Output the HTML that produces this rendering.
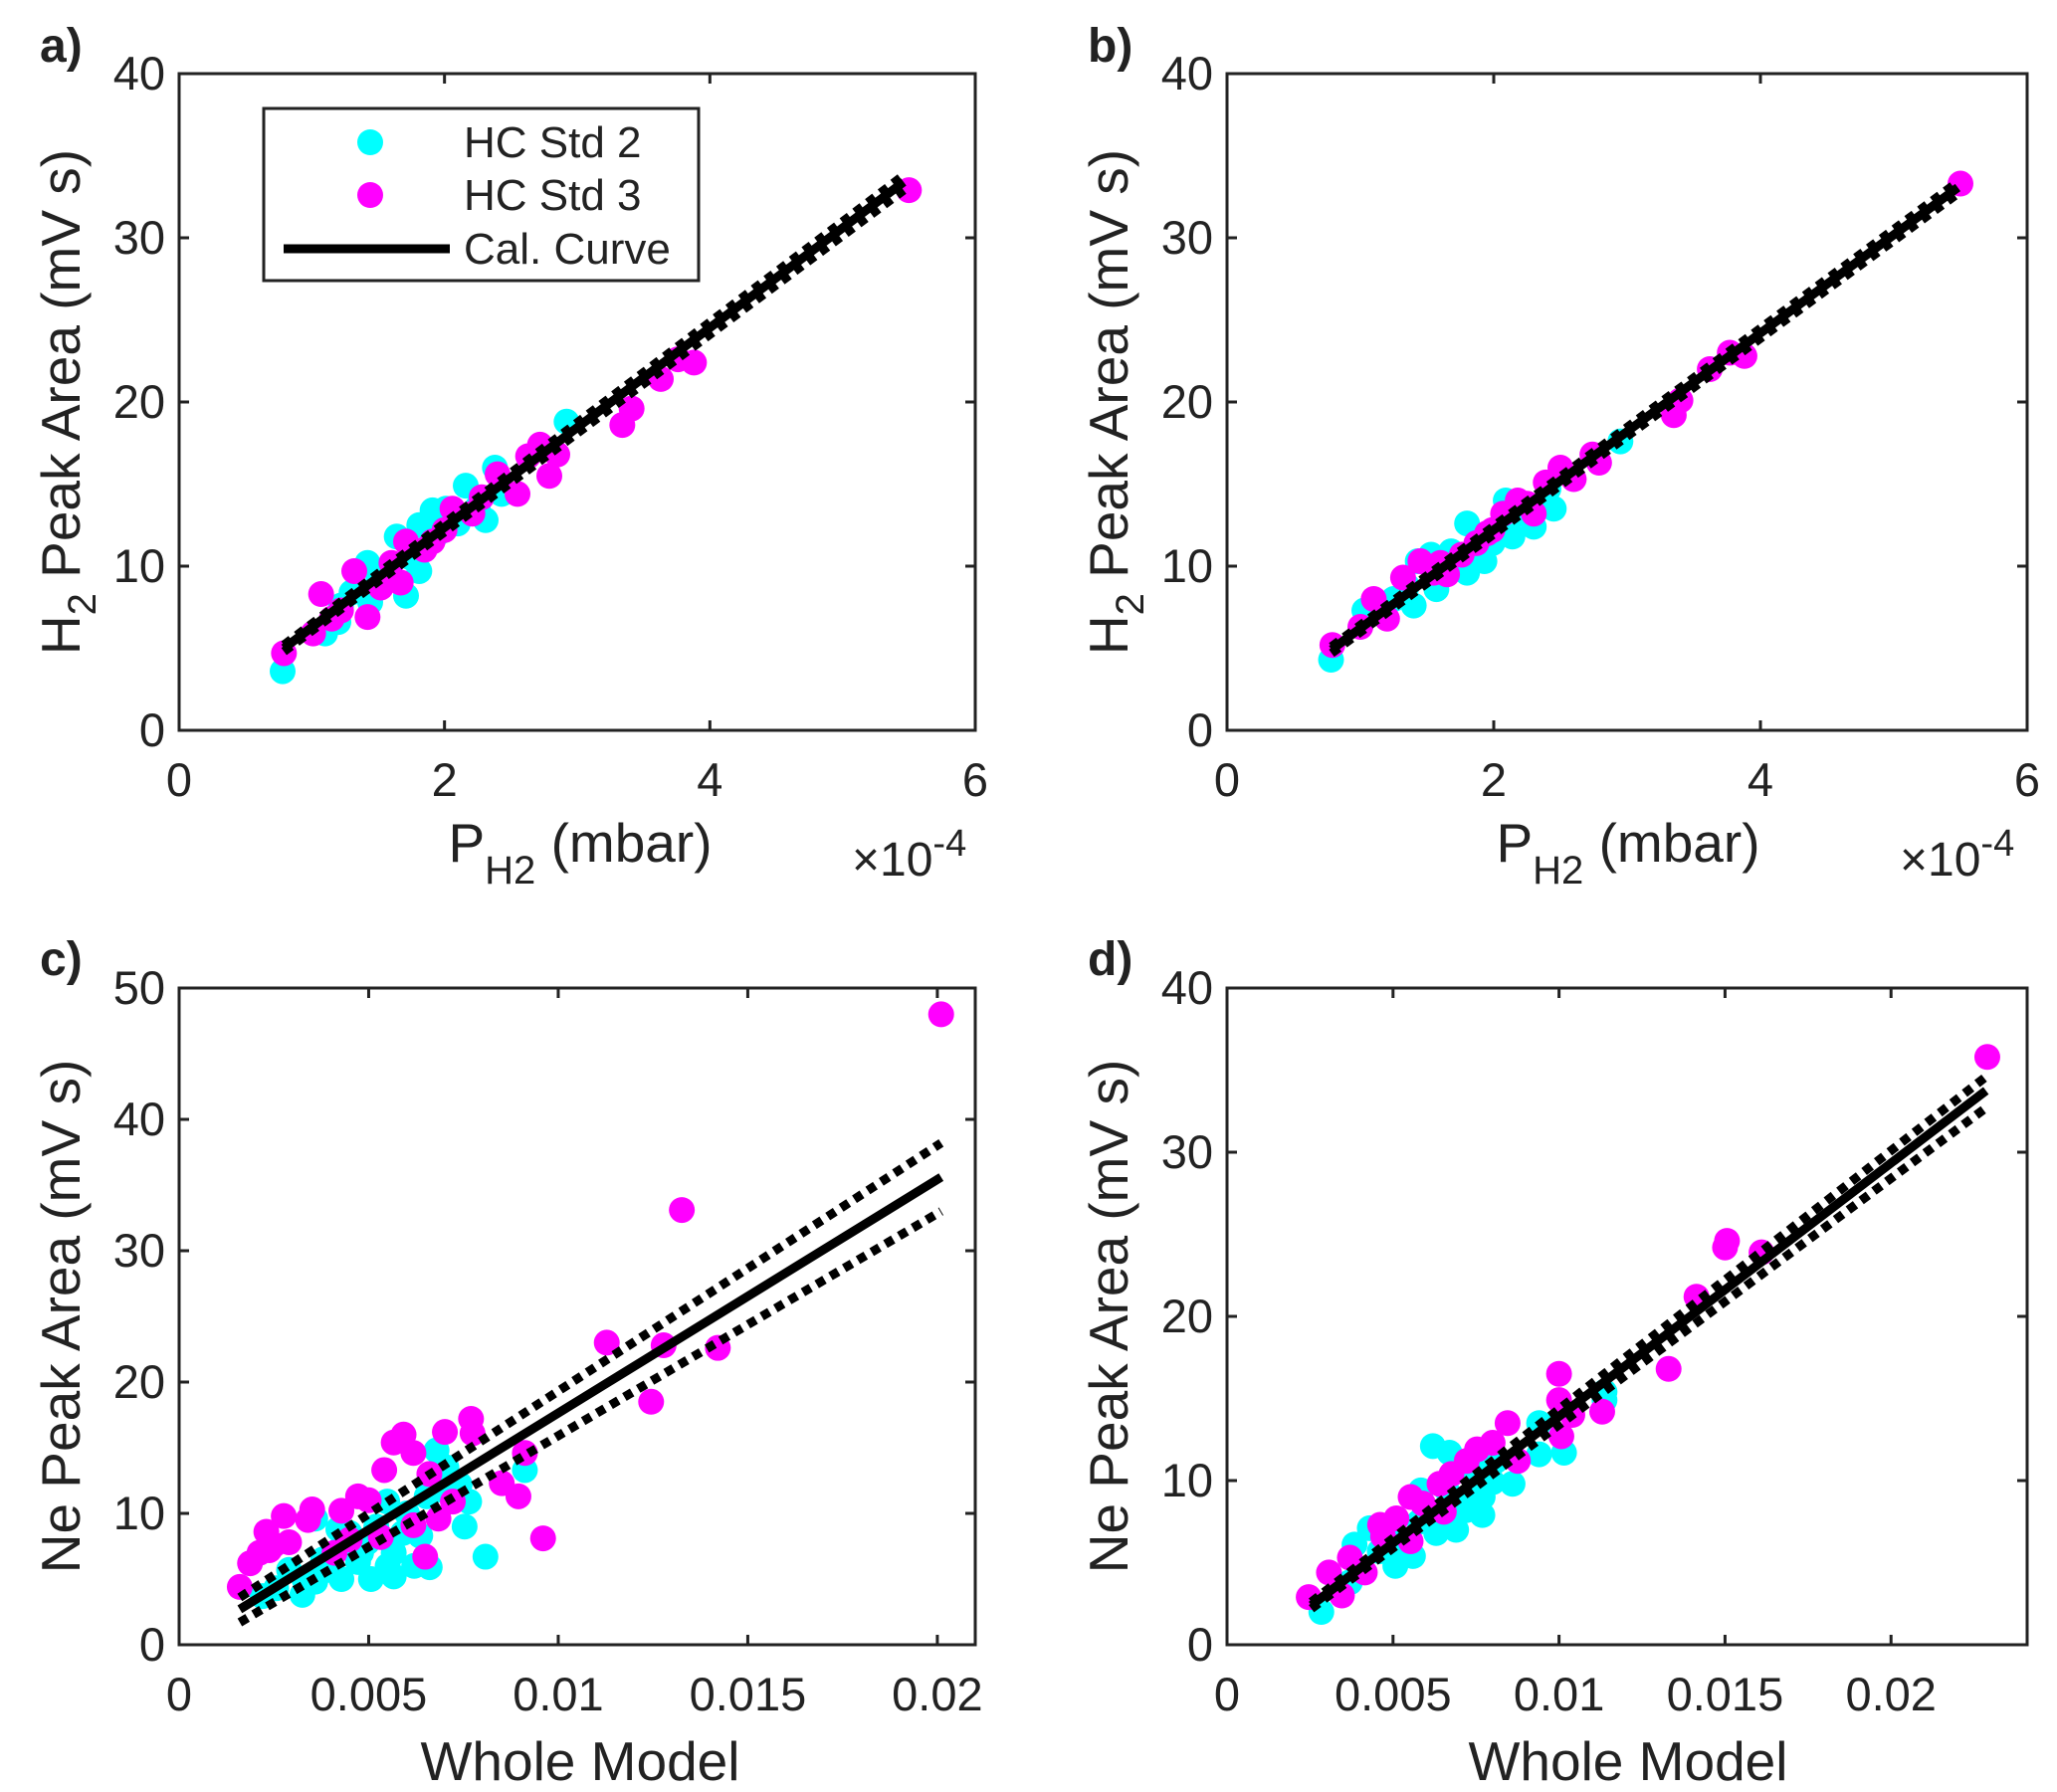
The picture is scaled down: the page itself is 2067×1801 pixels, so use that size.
<!DOCTYPE html>
<html><head><meta charset="utf-8"><style>
html,body{margin:0;padding:0;background:#fff;}
svg{display:block;font-family:"Liberation Sans",Arial,sans-serif;}
</style></head><body>
<svg id="fig" width="2067" height="1801" viewBox="0 0 2067 1801" xmlns="http://www.w3.org/2000/svg"></svg>
<script>
// ---- Panel a data (x in 1e-4 mbar) ----
const aCyanX=[0.78,1.1,1.22,1.42,1.44,1.64,1.81,1.81,1.91,2.01,2.16,2.31,2.38,2.43,2.92,1.57,1.71,1.3,1.5,1.95,2.1,2.25,1.75,1.2];
const aCyanY=[3.6,5.9,7.6,10.2,7.8,11.8,9.7,12.5,13.4,13.5,14.9,12.8,16.0,14.4,18.8,9.7,8.2,8.4,9.4,12.0,12.6,13.6,10.5,6.6];
const aMagX=[0.79,5.5,1.01,1.07,1.32,1.22,1.67,1.71,1.91,2.06,2.21,2.28,2.4,2.55,2.63,2.72,2.79,2.85,3.34,3.41,3.63,3.76,3.88,1.42,1.52,1.85,2.0,1.6,1.15];
const aMagY=[4.7,32.9,5.9,8.3,9.7,7.3,9.0,11.5,11.5,13.5,13.2,14.2,15.6,14.4,16.7,17.4,15.5,16.8,18.6,19.6,21.4,22.6,22.4,6.9,8.7,11.0,12.2,10.2,6.8];
const aFitX=[0.79,5.46];const aFitY=[5.0,33.4];const aUpY=[5.2,33.8];const aLoY=[4.8,32.9];
// ---- Panel b data ----
const bCyanX=[0.78,1.03,1.13,1.4,1.43,1.53,1.57,1.8,1.93,1.8,2.09,2.14,2.3,2.45,2.41,2.95,1.99,1.68,1.25,1.65,2.2,1.35];
const bCyanY=[4.3,7.3,7.3,7.6,10.3,10.7,8.6,12.6,10.3,9.6,14.0,11.8,12.4,13.5,14.7,17.6,11.4,10.9,8.0,10.0,13.2,8.8];
const bMagX=[0.79,5.5,1.0,1.1,1.2,1.32,1.55,1.65,1.76,1.87,2.07,2.18,2.3,2.5,2.6,2.74,2.79,3.35,3.4,3.62,3.77,3.88,1.45,1.99,2.39,1.6,1.95,2.25];
const bMagY=[5.2,33.3,6.3,8.0,6.8,9.3,9.6,9.5,10.7,11.4,13.2,14.0,13.2,16.0,15.3,16.8,16.3,19.2,20.1,22.0,23.0,22.8,10.3,12.2,15.1,10.2,12.0,13.8];
const bFitX=[0.784,5.48];const bFitY=[4.92,33.06];const bUpY=[5.1,33.4];const bLoY=[4.7,32.7];
// ---- Panel c data ----
const cCyanX=[0.00808,0.00753,0.00765,0.00912,0.00679,0.00661,0.00566,0.00506,0.00428,0.00325,0.00256,0.0022,0.00359,0.00394,0.00472,0.00566,0.00636,0.00497,0.00601,0.00359,0.00428,0.00549,0.00705,0.00653,0.0029,0.0074,0.0038,0.0045,0.0052,0.0059,0.0062,0.0033,0.0048,0.0055,0.0042,0.0068];
const cCyanY=[6.7,9.0,10.9,13.3,14.8,5.9,5.2,5.0,5.0,3.8,4.3,3.7,4.8,5.7,6.3,7.0,8.3,7.8,10.0,9.6,7.4,10.9,13.5,11.3,5.7,12.2,6.5,8.5,9.0,8.5,6.0,5.0,7.0,6.0,8.8,11.8];
const cMagX=[0.0016,0.0201,0.01326,0.01128,0.01278,0.01421,0.01245,0.0096,0.00895,0.00912,0.00851,0.0077,0.00774,0.00701,0.00592,0.00566,0.00618,0.0066,0.00541,0.00684,0.00649,0.00618,0.00472,0.00428,0.00351,0.00276,0.0023,0.00187,0.00212,0.0029,0.00238,0.00532,0.0041,0.00722,0.0034,0.005,0.0025,0.0045];
const cMagY=[4.4,48.0,33.1,23.0,22.8,22.6,18.5,8.1,11.3,14.6,12.3,17.2,16.1,16.2,16.0,15.4,14.6,13.0,13.3,9.6,6.7,9.1,11.3,10.2,10.3,9.8,8.6,6.2,7.0,7.8,7.2,8.2,7.0,10.9,9.5,11.0,7.6,8.0];
const cFitX=[0.0016,0.0201];const cFitY=[2.7,35.6];const cUpY=[3.6,38.2];const cLoY=[1.7,33.0];
// ---- Panel d data ----
const dCyanX=[0.00284,0.0037,0.00507,0.0056,0.0043,0.00584,0.0063,0.0069,0.00769,0.00753,0.0062,0.0067,0.0086,0.0094,0.01015,0.0094,0.01137,0.01137,0.0046,0.0054,0.008,0.0069,0.0074,0.0061,0.0081,0.00384,0.0065,0.0072,0.0058,0.0077,0.0052,0.0066];
const dCyanY=[2.0,3.8,4.8,5.4,7.1,9.4,6.8,7.0,7.9,9.4,12.1,11.7,9.8,11.6,11.7,13.5,15.4,14.9,5.7,5.8,9.9,8.6,10.7,8.1,11.2,6.1,8.0,8.2,7.5,9.0,6.5,9.5];
const dMagX=[0.00246,0.0229,0.01506,0.015,0.0161,0.01414,0.0133,0.01,0.01,0.0113,0.01007,0.00845,0.008,0.00753,0.00722,0.00676,0.00553,0.00653,0.00461,0.0051,0.00553,0.00415,0.00307,0.00346,0.0037,0.00876,0.0104,0.0064,0.0059,0.0047];
const dMagY=[2.9,35.8,24.6,24.2,23.9,21.2,16.8,16.5,14.9,14.2,12.7,13.5,12.3,11.9,11.2,10.4,9.0,8.1,7.3,7.7,6.3,4.4,4.4,3.0,5.3,11.2,14.0,9.8,8.6,6.6];
const dFitX=[0.00254,0.02286];const dFitY=[2.4,33.75];const dUpY=[2.6,34.6];const dLoY=[2.2,32.7];
// ---- Tick labels ----
const xTicksAB=[0,2,4,6];const xTickLabelsAB=["0","2","4","6"];
const yTicksAB=[0,10,20,30,40];
const xTicksCD=[0,0.005,0.01,0.015,0.02];const xTickLabelsCD=["0","0.005","0.01","0.015","0.02"];
const yTicksC=[0,10,20,30,40,50];const yTicksD=[0,10,20,30,40];

const NS="http://www.w3.org/2000/svg";
const svg=document.getElementById('fig');
function mk(tag,attrs,parent,text){const e=document.createElementNS(NS,tag);for(const k in attrs)e.setAttribute(k,attrs[k]);if(text!==undefined)e.textContent=text;(parent||svg).appendChild(e);return e;}

function panel(p){
  const g=mk('g',{});
  
  
  const X=v=>p.x0+(v-p.xmin)/(p.xmax-p.xmin)*(p.x1-p.x0);
  const Y=v=>p.y1-(v-p.ymin)/(p.ymax-p.ymin)*(p.y1-p.y0);
  const gc=mk('g',{},g);
  p.cx.forEach((v,i)=>{const c=mk('circle',{cx:X(v),cy:Y(p.cy[i]),r:13,fill:'#00ffff'},gc);
    
    });
  const gm=mk('g',{},g);
  p.mx.forEach((v,i)=>{const c=mk('circle',{cx:X(v),cy:Y(p.my[i]),r:13,fill:'#ff00ff'},gm);
    
    });
  const l=mk('line',{x1:X(p.fx[0]),y1:Y(p.fy[0]),x2:X(p.fx[1]),y2:Y(p.fy[1]),stroke:'#000','stroke-width':9},g);
  
  
  const u=mk('line',{x1:X(p.fx[0]),y1:Y(p.uy[0]),x2:X(p.fx[1]),y2:Y(p.uy[1]),stroke:'#000','stroke-width':9,'stroke-dasharray':'9 7'},g);
  
  
  const lo=mk('line',{x1:X(p.fx[0]),y1:Y(p.ly[0]),x2:X(p.fx[1]),y2:Y(p.ly[1]),stroke:'#000','stroke-width':9,'stroke-dasharray':'9 7'},g);
  
  
  const b=mk('rect',{x:p.x0,y:p.y0,width:p.x1-p.x0,height:p.y1-p.y0,fill:'none',stroke:'#222','stroke-width':3},g);
  
  
  p.xt.forEach((v,i)=>{const x=X(v);
    mk('line',{x1:x,y1:p.y1,x2:x,y2:p.y1-10,stroke:'#222','stroke-width':3},g);
    mk('line',{x1:x,y1:p.y0,x2:x,y2:p.y0+10,stroke:'#222','stroke-width':3},g);
    const t=mk('text',{x:x,y:p.y1+66,'font-size':47,'text-anchor':'middle',fill:'#222'},g,p.xtl[i]);
    
    });
  p.yt.forEach(v=>{const y=Y(v);
    mk('line',{x1:p.x0,y1:y,x2:p.x0+10,y2:y,stroke:'#222','stroke-width':3},g);
    mk('line',{x1:p.x1,y1:y,x2:p.x1-10,y2:y,stroke:'#222','stroke-width':3},g);
    const t=mk('text',{x:p.x0-14,y:y+16,'font-size':47,'text-anchor':'end',fill:'#222'},g,String(v));
    
    });
  return {g,X,Y};
}

const A={id:'a',x0:180,x1:980,y0:74,y1:734,xmin:0,xmax:6,ymin:0,ymax:40,cx:aCyanX,cy:aCyanY,mx:aMagX,my:aMagY,fx:aFitX,fy:aFitY,uy:aUpY,ly:aLoY,xt:xTicksAB,xtl:xTickLabelsAB,yt:yTicksAB};
const B={id:'b',x0:1233,x1:2037,y0:74,y1:734,xmin:0,xmax:6,ymin:0,ymax:40,cx:bCyanX,cy:bCyanY,mx:bMagX,my:bMagY,fx:bFitX,fy:bFitY,uy:bUpY,ly:bLoY,xt:xTicksAB,xtl:xTickLabelsAB,yt:yTicksAB};
const C={id:'c',x0:180,x1:980,y0:993,y1:1653,xmin:0,xmax:0.021,ymin:0,ymax:50,cx:cCyanX,cy:cCyanY,mx:cMagX,my:cMagY,fx:cFitX,fy:cFitY,uy:cUpY,ly:cLoY,xt:xTicksCD,xtl:xTickLabelsCD,yt:yTicksC};
const D={id:'d',x0:1233,x1:2037,y0:993,y1:1653,xmin:0,xmax:0.0241,ymin:0,ymax:40,cx:dCyanX,cy:dCyanY,mx:dMagX,my:dMagY,fx:dFitX,fy:dFitY,uy:dUpY,ly:dLoY,xt:xTicksCD,xtl:xTickLabelsCD,yt:yTicksD};
[A,B,C,D].forEach(p=>panel(p));
</script>
<svg style="position:absolute;left:0;top:0" width="2067" height="1801" xmlns="http://www.w3.org/2000/svg" font-family="Liberation Sans, Arial, sans-serif" fill="#222">
  <text x="40" y="62" font-size="48" font-weight="bold">a)</text>
  <text x="1093" y="62" font-size="48" font-weight="bold">b)</text>
  <text x="40" y="980" font-size="48" font-weight="bold">c)</text>
  <text x="1093" y="980" font-size="48" font-weight="bold">d)</text>

  <text transform="translate(80,404) rotate(-90)" font-size="55" text-anchor="middle">H<tspan font-size="40" dy="16">2</tspan><tspan dy="-16"> Peak Area (mV s)</tspan></text>
  <text transform="translate(1133,404) rotate(-90)" font-size="55" text-anchor="middle">H<tspan font-size="40" dy="16">2</tspan><tspan dy="-16"> Peak Area (mV s)</tspan></text>
  <text transform="translate(80,1323) rotate(-90)" font-size="55" text-anchor="middle">Ne Peak Area (mV s)</text>
  <text transform="translate(1133,1323) rotate(-90)" font-size="55" text-anchor="middle">Ne Peak Area (mV s)</text>

  <text x="583" y="866" font-size="55" text-anchor="middle">P<tspan font-size="40" dy="22">H2</tspan><tspan dy="-22"> (mbar)</tspan></text>
  <text x="1636" y="866" font-size="55" text-anchor="middle">P<tspan font-size="40" dy="22">H2</tspan><tspan dy="-22"> (mbar)</tspan></text>
  <text x="856" y="880" font-size="48">×10<tspan font-size="38" dy="-20">-4</tspan></text>
  <text x="1909" y="880" font-size="48">×10<tspan font-size="38" dy="-20">-4</tspan></text>
  <text x="583" y="1789" font-size="55" text-anchor="middle">Whole Model</text>
  <text x="1636" y="1789" font-size="55" text-anchor="middle">Whole Model</text>

  <g>
    <rect x="265" y="109" width="437" height="173" fill="#fff" stroke="#222" stroke-width="3"/>
    <circle cx="372" cy="143" r="13" fill="#00ffff"/>
    <text x="466" y="158" font-size="44">HC Std 2</text>
    <circle cx="372" cy="196" r="13" fill="#ff00ff"/>
    <text x="466" y="211" font-size="44">HC Std 3</text>
    <line x1="285" y1="250" x2="452" y2="250" stroke="#000" stroke-width="9"/>
    <text x="466" y="265" font-size="44">Cal. Curve</text>
  </g>
</svg>
</body></html>
